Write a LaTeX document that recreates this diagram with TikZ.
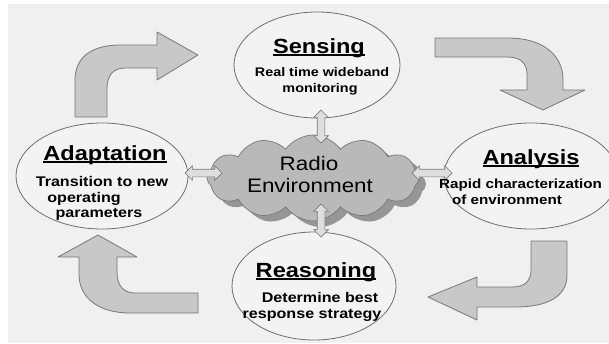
\documentclass[tikz,border=0pt]{standalone}
\usepackage{fontspec}
\setmainfont{Liberation Sans}[FakeStretch=1.15]
\newsavebox\ulbox
\newcommand\myul[1]{\sbox\ulbox{#1}\rlap{\rule[-2.5pt]{\wd\ulbox}{1.3pt}}\usebox\ulbox}
\usetikzlibrary{shapes.geometric,shapes.symbols,shapes.arrows,shadows}
\definecolor{bg}{RGB}{240,240,240}
\definecolor{efill}{RGB}{243,243,243}
\definecolor{eline}{RGB}{110,110,110}
\definecolor{bfill}{RGB}{200,200,200}
\definecolor{bline}{RGB}{120,120,120}
\definecolor{cfill}{RGB}{185,185,185}
\definecolor{cshadow}{RGB}{150,150,150}
\definecolor{dfill}{RGB}{222,222,222}
\begin{document}
\begin{tikzpicture}[x=1pt,y=-1pt,
  phase/.style={ellipse, draw=eline, fill=efill, line width=0.8pt, inner sep=0pt},
  ttl/.style={font=\fontsize{20.5}{24}\selectfont\bfseries, anchor=base, inner sep=0pt},
  sub/.style={font=\fontsize{14}{16}\selectfont\bfseries, anchor=base, inner sep=0pt},
  subs/.style={font=\fontsize{12.5}{15}\selectfont\bfseries, anchor=base, inner sep=0pt},
  suba/.style={font=\fontsize{13.2}{16}\selectfont\bfseries, anchor=base west, inner sep=0pt},
  ctext/.style={font=\fontsize{19.5}{22}\selectfont, anchor=base, inner sep=0pt},
  block/.style={fill=bfill, draw=bline, line width=0.8pt, line join=round},
  dbl/.style={double arrow, fill=dfill, draw=bline, line width=0.7pt, inner sep=3.5pt,
    double arrow head extend=3.5pt, double arrow head indent=0pt}
]
\useasboundingbox (0,0) rectangle (609,343);
\fill[white] (0,0) rectangle (609,343);
\fill[bg] (8,4) rectangle (609,343);

% big curved block arrows
\draw[block] (75,117) -- (75,80) .. controls (75,57) and (92,45) .. (120,45) -- (157,45) -- (157,32) -- (198,55) -- (157,80) -- (157,68) -- (125,68) .. controls (113,68) and (107,76) .. (107,88) -- (107,117) -- cycle;
\draw[block] (435,38) -- (508,38) .. controls (543,38) and (563,55) .. (563,80) -- (563,90) -- (585,90) -- (543,110) -- (500,90) -- (527,90) -- (527,74) .. controls (527,63) and (520,57) .. (508,57) -- (435,57) -- cycle;
\draw[block] (531,241) -- (567,241) -- (567,275) .. controls (567,297) and (547,307) .. (515,307) -- (477,307) -- (477,320) -- (428,297) -- (477,277) -- (477,287) -- (512,287) .. controls (525,287) and (531,281) .. (531,270) -- cycle;
\draw[block] (79,257) -- (79,274) .. controls (79,299) and (100,313) .. (130,313) -- (198,313) -- (198,293) -- (135,293) .. controls (123,293) and (117,285) .. (117,272) -- (117,257) -- (137,257) -- (98,235) -- (58,257) -- cycle;

% phase ellipses
\node[phase, minimum width=166pt, minimum height=106pt] (sens) at (317,65) {};
\node[phase, minimum width=172pt, minimum height=106pt] (adapt) at (102,176) {};
\node[phase, minimum width=174pt, minimum height=106pt] (anal) at (531,176) {};
\node[phase, minimum width=164pt, minimum height=108pt] (reas) at (314,286) {};

% cloud
\node[cloud, cloud puffs=12, cloud puff arc=110, cloud ignores aspect,
  minimum width=212pt, minimum height=86pt, fill=cfill, draw=bline, line width=0.7pt,
  drop shadow={shadow xshift=7pt, shadow yshift=-6pt, fill=cshadow, opacity=1}] (cloud) at (313,178) {};
\node[ctext] (c1) at (309,170) {Radio};
\node[ctext] (c2) at (310,192) {Environment};

% double arrows
\coordinate (ta) at (321,110); \coordinate (tb) at (321,143);
\coordinate (ba) at (321,204); \coordinate (bb) at (321,237);
\coordinate (la) at (185,173); \coordinate (lb) at (222,173);
\coordinate (ra) at (412,173); \coordinate (rb) at (452,173);
\path (ta) -- (tb) node[dbl, midway, sloped, minimum height=33pt] (d1) {};
\path (ba) -- (bb) node[dbl, midway, sloped, minimum height=33pt] (d2) {};
\path (la) -- (lb) node[dbl, midway, sloped, minimum height=37pt] (d3) {};
\path (ra) -- (rb) node[dbl, midway, sloped, minimum height=40pt] (d4) {};

% texts
\node[ttl] (st) at (319,53) {\myul{Sensing}};
\node[subs] (s1) at (322,76) {Real time wideband};
\node[subs] (s2) at (320,92) {monitoring};

\node[ttl] (at) at (105,160) {\myul{Adaptation}};
\node[sub] (a1) at (102,186) {Transition to new};
\node[sub] (a2) at (84,202) {operating};
\node[sub] (a3) at (99,217) {parameters};

\node[ttl] (nt) at (531,164) {\myul{Analysis}};
\node[suba] (n1) at (439,188) {Rapid characterization};
\node[suba] (n2) at (452,204) {of environment};

\node[ttl] (rt) at (316,277) {\myul{Reasoning}};
\node[sub] (r1) at (320,302) {Determine best};
\node[sub] (r2) at (312,318) {response strategy};
\end{tikzpicture}
\end{document}
